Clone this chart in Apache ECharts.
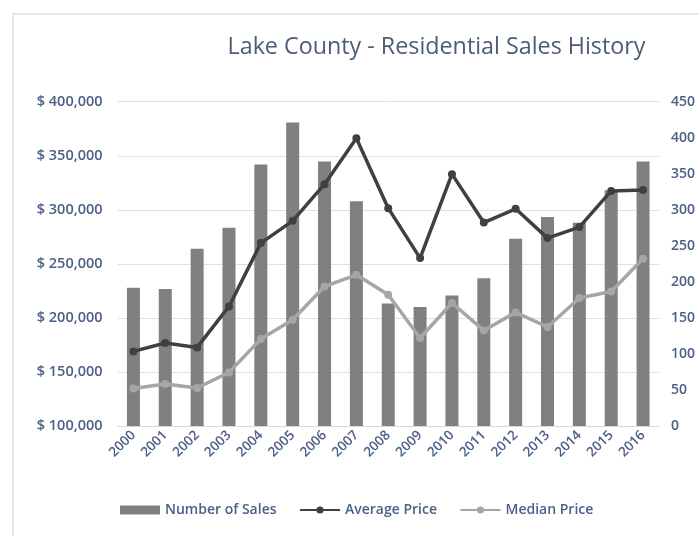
<!DOCTYPE html>
<html>
<head>
<meta charset="utf-8">
<script src="https://cdn.jsdelivr.net/npm/echarts@6/dist/echarts.min.js"></script>
<style>
  html, body { margin: 0; padding: 0; background: #ffffff; }
  #chart { width: 698px; height: 536px; }
</style>
</head>
<body>
<div id="chart"></div>
<script>
// Sales history by year
const years = ['2000','2001','2002','2003','2004','2005','2006','2007','2008','2009','2010','2011','2012','2013','2014','2015','2016'];
const numberOfSales = [192, 190, 246, 275, 363, 421, 367, 312, 170, 165, 181, 205, 260, 290, 282, 327, 367];
const averagePrice = [169000, 176800, 172700, 210600, 269200, 289800, 323700, 366200, 301500, 255300, 333000, 288200, 300900, 273800, 284000, 317500, 318400];
const medianPrice = [134600, 138900, 135200, 149600, 180500, 198300, 229100, 239900, 221400, 181400, 213800, 188400, 205100, 191600, 218400, 224500, 254700];

const labelColor = '#4a6088';
const font = '"Open Sans", "Noto Sans", sans-serif';

const chart = echarts.init(document.getElementById('chart'), null, { renderer: 'canvas' });

chart.setOption({
  backgroundColor: '#ffffff',
  animation: false,
  title: {
    text: 'Lake County - Residential Sales History',
    left: 431.5,
    top: 31,
    textAlign: 'center',
    textStyle: { color: '#4d5d76', fontFamily: font, fontSize: 23.3, fontWeight: 500 }
  },
  graphic: [{
    type: 'rect',
    shape: { x: 13, y: 14, width: 700, height: 540 },
    style: { fill: 'none', stroke: '#e6e6e6', lineWidth: 2 },
    silent: true
  }],
  legend: {
    bottom: 14,
    left: 115,
    itemGap: 22.5,
    itemHeight: 9,
    itemWidth: 40,
    textStyle: { color: labelColor, fontFamily: font, fontSize: 14, fontWeight: 600 },
    data: [
      { name: 'Number of Sales', icon: 'rect' },
      { name: 'Average Price' },
      { name: 'Median Price' }
    ]
  },
  grid: { left: 117.5, right: 35.3, top: 101.7, bottom: 110 },
  xAxis: {
    type: 'category',
    data: years,
    axisLine: { lineStyle: { color: '#d9d9d9' } },
    axisTick: { show: false },
    axisLabel: { color: labelColor, fontFamily: font, fontSize: 13.5, fontWeight: 600, rotate: 45, margin: 7, interval: 0 }
  },
  yAxis: [{
    type: 'value',
    min: 100000,
    max: 400000,
    interval: 50000,
    axisLine: { show: false },
    axisTick: { show: false },
    splitLine: { lineStyle: { color: '#e0e0e0', width: 1 } },
    axisLabel: {
      color: labelColor, fontFamily: font, fontSize: 14.5, fontWeight: 600, margin: 15,
      formatter: v => '$ ' + v.toLocaleString('en-US')
    }
  }, {
    type: 'value',
    min: 0,
    max: 450,
    interval: 50,
    axisLine: { show: false },
    axisTick: { show: false },
    splitLine: { show: false },
    axisLabel: { color: labelColor, fontFamily: font, fontSize: 14, fontWeight: 600, margin: 12 }
  }],
  series: [{
    name: 'Number of Sales',
    type: 'bar',
    yAxisIndex: 1,
    data: numberOfSales,
    barWidth: 13,
    itemStyle: { color: '#808080' },
    z: 1
  }, {
    name: 'Average Price',
    type: 'line',
    yAxisIndex: 0,
    data: averagePrice,
    symbol: 'circle',
    symbolSize: 8,
    lineStyle: { color: '#404040', width: 3.5 },
    itemStyle: { color: '#404040' },
    z: 3
  }, {
    name: 'Median Price',
    type: 'line',
    yAxisIndex: 0,
    data: medianPrice,
    symbol: 'circle',
    symbolSize: 8,
    lineStyle: { color: '#a6a6a6', width: 3.5 },
    itemStyle: { color: '#a6a6a6' },
    z: 2
  }]
});
</script>
</body>
</html>
